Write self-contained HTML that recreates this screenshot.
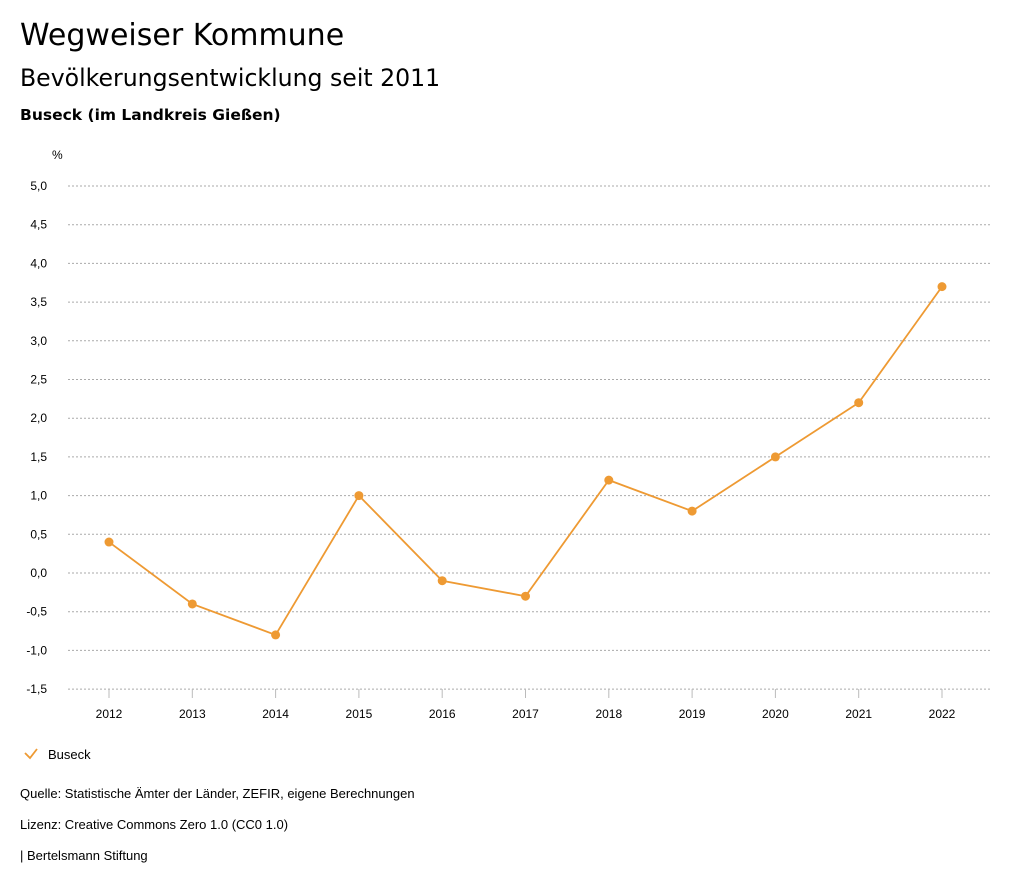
<!DOCTYPE html>
<html><head><meta charset="utf-8">
<style>
body{margin:0;background:#fff;width:1024px;height:888px;overflow:hidden;font-family:"Liberation Sans","DejaVu Sans",sans-serif;color:#000}
.t{position:absolute;left:20px;white-space:nowrap;font-family:"DejaVu Sans","Liberation Sans",sans-serif}
</style></head><body>
<div class="t" style="top:18px;font-size:30px">Wegweiser Kommune</div>
<div class="t" style="top:64px;font-size:23.6px">Bevölkerungsentwicklung seit 2011</div>
<div class="t" style="top:106px;font-size:15.5px;font-weight:bold">Buseck (im Landkreis Gießen)</div>
<svg width="1024" height="888" style="position:absolute;left:0;top:0">
<g id="grid"></g><g id="xax"></g><g id="series"></g>
<text x="52" y="159" font-size="12">%</text>
<polyline points="25,753 30,758 37,749" fill="none" stroke="#ee9a33" stroke-width="1.8"/>
<text x="48" y="759" font-size="13">Buseck</text>
<text x="20" y="798" font-size="13">Quelle: Statistische Ämter der Länder, ZEFIR, eigene Berechnungen</text>
<text x="20" y="829" font-size="13">Lizenz: Creative Commons Zero 1.0 (CC0 1.0)</text>
<text x="20" y="860" font-size="13">| Bertelsmann Stiftung</text>
</svg>
<script>
const years=[2012,2013,2014,2015,2016,2017,2018,2019,2020,2021,2022];
const values=[0.4,-0.4,-0.8,1.0,-0.1,-0.3,1.2,0.8,1.5,2.2,3.7];
const yTicks=[5.0,4.5,4.0,3.5,3.0,2.5,2.0,1.5,1.0,0.5,0.0,-0.5,-1.0,-1.5];
const NS="http://www.w3.org/2000/svg";
const y=v=>573-(v*77.4);
const x=i=>109+i*83.3;
function mk(tag,attrs,parent){const e=document.createElementNS(NS,tag);for(const k in attrs)e.setAttribute(k,attrs[k]);document.getElementById(parent).appendChild(e);return e;}
yTicks.forEach(v=>{
 const l=mk('line',{x1:68,x2:990,y1:y(v),y2:y(v),stroke:'#aaa','stroke-dasharray':'2,2','stroke-width':1},'grid');
 
 
 const t=mk('text',{x:47,y:y(v)+4,'font-size':12,'text-anchor':'end'},'grid');
 t.textContent=v.toFixed(1).replace('.',',');
 
 
});
years.forEach((yr,i)=>{
 const l=mk('line',{x1:x(i),x2:x(i),y1:689,y2:698,stroke:'#bbb'},'xax');
 
 
 const t=mk('text',{x:x(i),y:718,'font-size':12,'text-anchor':'middle'},'xax');
 t.textContent=yr;
 
 
});
const pl=mk('polyline',{points:values.map((v,i)=>x(i)+','+y(v)).join(' '),fill:'none',stroke:'#ee9a33','stroke-width':1.8},'series');


values.forEach((v,i)=>{
 const c=mk('circle',{cx:x(i),cy:y(v),r:4.5,fill:'#ee9a33'},'series');
 
 
});
</script>
</body></html>
